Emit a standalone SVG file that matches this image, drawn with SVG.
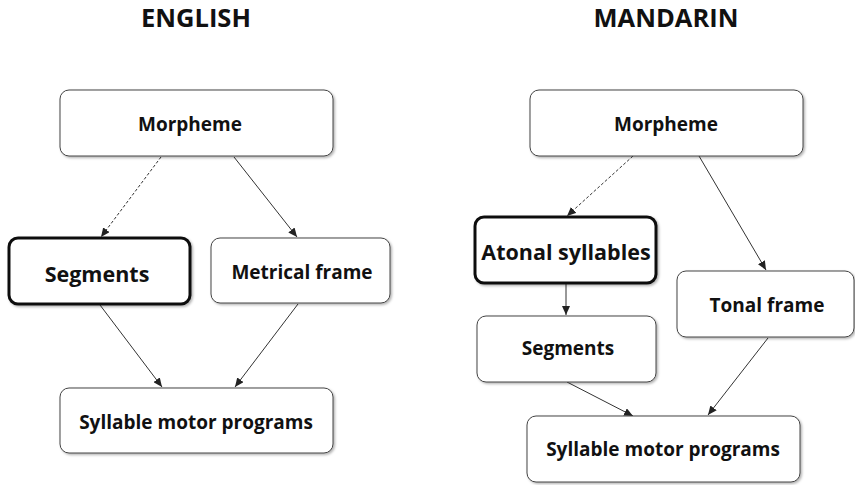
<svg xmlns="http://www.w3.org/2000/svg" width="855" height="485" viewBox="0 0 855 485">
<defs>
<style>
.box{fill:#fff;stroke:#444;stroke-width:1;filter:url(#sh)}
.hi{fill:#fff;stroke:#111;stroke-width:3;filter:url(#sh)}
.t{font-family:"Open Sans","Liberation Sans",sans-serif;font-weight:bold;font-size:19px;fill:#111;text-anchor:middle}
.th{font-size:21.5px}
.title{font-family:"Open Sans","Liberation Sans",sans-serif;font-weight:bold;font-size:25.5px;fill:#111;text-anchor:middle}
.c{stroke:#333;stroke-width:1;fill:none;marker-end:url(#ah)}
.d{stroke-dasharray:3,2}
</style>
<filter id="sh" x="-10%" y="-10%" width="120%" height="130%">
<feDropShadow dx="1.5" dy="1.5" stdDeviation="1.2" flood-color="#000" flood-opacity="0.3"/>
</filter>
<marker id="ah" markerUnits="userSpaceOnUse" markerWidth="10" markerHeight="8" refX="9" refY="4" orient="auto">
<path d="M0,0 L9,4 L0,8 Z" fill="#222"/>
</marker>
</defs>
<rect width="855" height="485" fill="#fff"/>
<text class="title" x="196" y="27">ENGLISH</text>
<text class="title" x="666" y="27">MANDARIN</text>
<g id="connectors">
<line class="c d" x1="161" y1="157" x2="101" y2="237"/>
<line class="c" x1="234" y1="157" x2="297" y2="237"/>
<line class="c" x1="100" y1="305" x2="162" y2="387"/>
<line class="c" x1="298" y1="304" x2="235" y2="387"/>
<line class="c d" x1="633" y1="156" x2="567" y2="216"/>
<line class="c" x1="699" y1="156" x2="766" y2="270"/>
<line class="c" x1="566" y1="284" x2="566" y2="315"/>
<line class="c" x1="567" y1="382" x2="633" y2="416"/>
<line class="c" x1="768" y1="338" x2="708" y2="415"/>
</g>
<g id="e-morpheme"><rect class="box" x="60" y="90" width="273" height="66" rx="9"/><text class="t" x="190" y="131">Morpheme</text></g>
<g id="e-segments"><rect class="hi" x="9" y="238" width="181" height="66" rx="9"/><text class="t th" x="97" y="282">Segments</text></g>
<g id="e-metrical"><rect class="box" x="211" y="238" width="179" height="65" rx="9"/><text class="t" x="302" y="279">Metrical frame</text></g>
<g id="e-smp"><rect class="box" x="60" y="388" width="273" height="65" rx="9"/><text class="t" x="196" y="429">Syllable motor programs</text></g>
<g id="m-morpheme"><rect class="box" x="530" y="90" width="273" height="66" rx="9"/><text class="t" x="666" y="131">Morpheme</text></g>
<g id="m-atonal"><rect class="hi" x="475" y="217" width="181" height="66" rx="9"/><text class="t th" x="566" y="260">Atonal syllables</text></g>
<g id="m-tonal"><rect class="box" x="677" y="271" width="177" height="66" rx="9"/><text class="t" x="767" y="312">Tonal frame</text></g>
<g id="m-segments"><rect class="box" x="477" y="316" width="179" height="66" rx="9"/><text class="t" x="568" y="355">Segments</text></g>
<g id="m-smp"><rect class="box" x="527" y="416" width="273" height="66" rx="9"/><text class="t" x="663" y="456">Syllable motor programs</text></g>
</svg>
